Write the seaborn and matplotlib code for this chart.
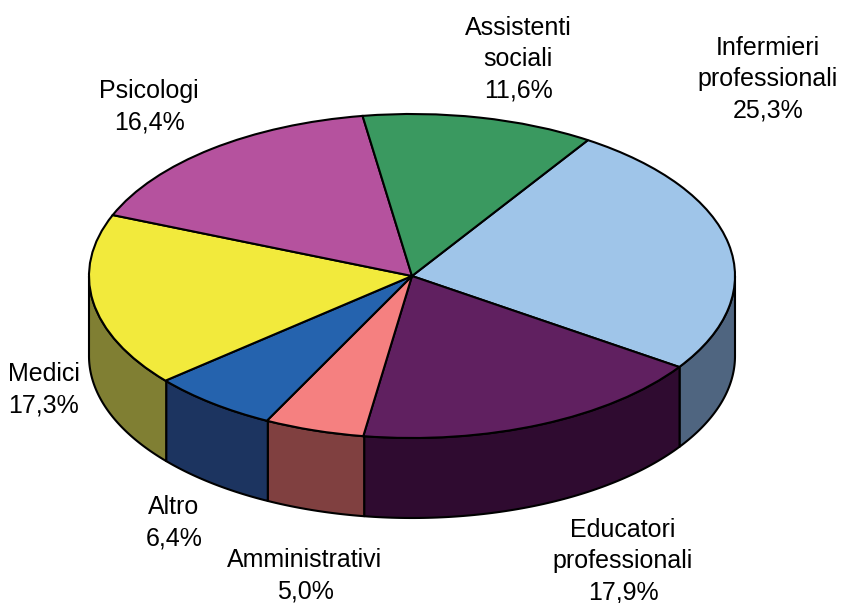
import numpy as np
import matplotlib.pyplot as plt
import seaborn as sns

labels = ["Infermieri\nprofessionali", "Educatori\nprofessionali", "Amministrativi",
          "Altro", "Medici", "Psicologi", "Assistenti\nsociali"]
values = [25.3, 17.9, 5.0, 6.4, 17.3, 16.4, 11.6]
top_colors = ["#9FC5E9", "#602060", "#F58080", "#2563AE", "#F2EA3C", "#B5529E", "#3A9960"]
side_colors = ["#4F6580", "#2F0B30", "#804040", "#1C3460", "#807F33", "#5A2950", "#1D4D30"]

# label centres in pixels of the 842x603 picture
label_px = [(768, 79), (623, 561), (305, 576), (174, 523), (44, 390), (149, 107), (518, 59)]

W, H = 842, 603
CX, CY, RX, RY, DEPTH = 412, 276, 323, 162, 80
START = 57.0

sns.set_theme(style="white")
plt.rcParams["font.family"] = ["Liberation Sans", "DejaVu Sans"]

fig = plt.figure(figsize=(W / 100, H / 100), dpi=100)
ax = fig.add_axes([0, 0, 1, 1])

# pie is a unit circle, the unequal axis scale squashes it into the tilted disc
ax.pie(values, colors=sns.color_palette(top_colors), startangle=START, counterclock=False,
       radius=1, wedgeprops={"edgecolor": "black", "linewidth": 1.5, "zorder": 5})
ax.set_aspect("auto")
ax.set_xlim(-CX / RX, (W - CX) / RX)
ax.set_ylim(-(H - CY) / RY, CY / RY)
ax.set_frame_on(False)

# rim below the disc, only the front half of the circle shows
depth = DEPTH / RY
edges = START - np.cumsum([0] + values) * 3.6
for a0, a1, col in zip(edges[:-1], edges[1:], side_colors):
    hi, lo = min(a0, 0), max(a1, -180)
    if hi <= lo:
        continue
    t = np.radians(np.linspace(hi, lo, 80))
    x = np.cos(t)
    y = np.sin(t)
    ax.fill(np.r_[x, x[::-1]], np.r_[y, y[::-1] - depth], facecolor=col,
            edgecolor="black", linewidth=1.5, zorder=2, joinstyle="round")

for lab, val, (px, py) in zip(labels, values, label_px):
    txt = lab + "\n" + f"{val:.1f}%".replace(".", ",")
    fig.text(px / W, 1 - py / H, txt, ha="center", va="center", fontsize=18,
             color="black", linespacing=1.38)

fig.savefig("out.png", dpi=100)
